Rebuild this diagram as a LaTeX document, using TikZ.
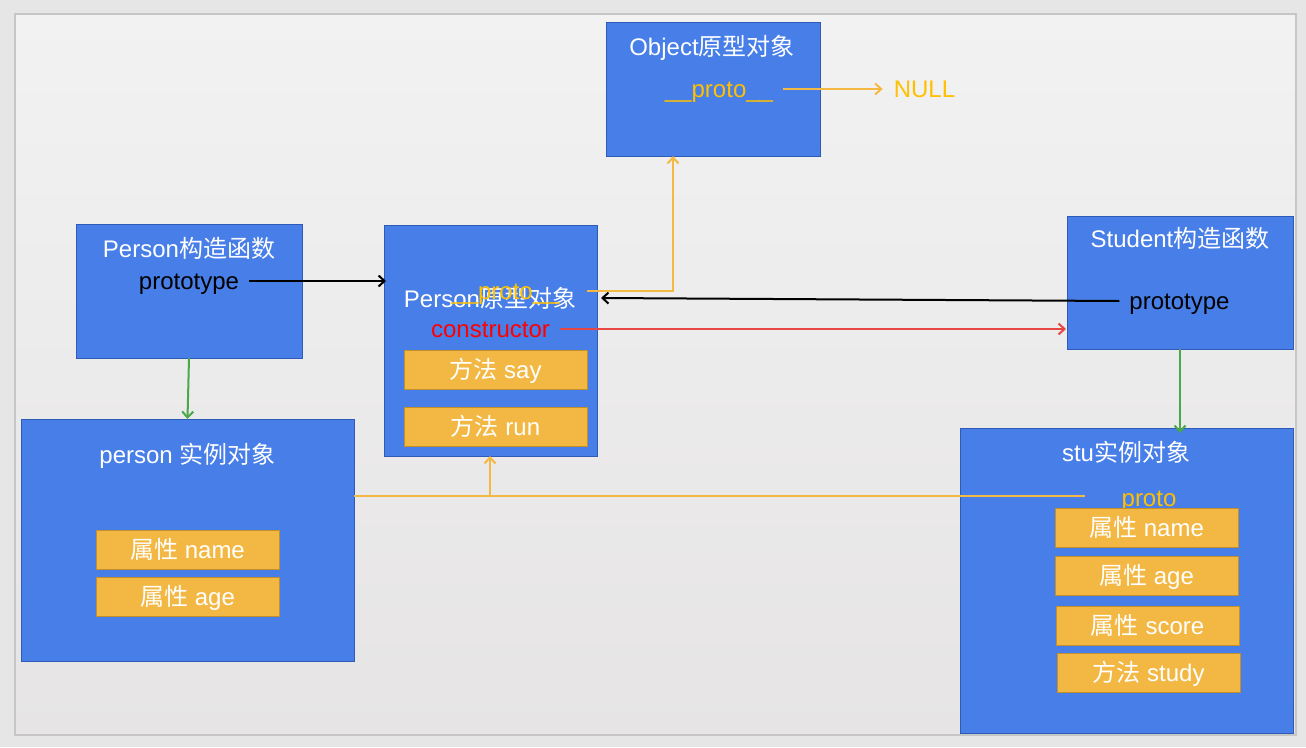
\documentclass[tikz,border=0pt]{standalone}
\usepackage{fontspec}
\setmainfont{Liberation Sans}
\newfontfamily\cjk{Noto Sans CJK SC}
\usetikzlibrary{arrows.meta,calc}
\definecolor{bfill}{HTML}{477EE8}
\definecolor{bline}{HTML}{2F5BB7}
\definecolor{ofill}{HTML}{F3B843}
\definecolor{oline}{HTML}{C38E2C}
\definecolor{otext}{HTML}{FFC000}
\definecolor{oarr}{HTML}{F4B942}
\definecolor{garr}{HTML}{4AA84A}
\definecolor{rarr}{HTML}{E84545}
\definecolor{bgout}{HTML}{E6E6E6}
\definecolor{slidetop}{HTML}{F2F2F2}
\definecolor{slidebot}{HTML}{E6E4E4}
\definecolor{slideedge}{HTML}{C6C6C6}
\begin{document}
\begin{tikzpicture}[x=1pt,y=-1pt,
  bbox/.style={draw=bline, fill=bfill, line width=1pt, inner sep=0pt, outer sep=0pt, anchor=north west},
  obox/.style={draw=oline, fill=ofill, line width=1pt, text=white, font=\fontsize{24}{28}\selectfont,
     minimum width=183pt, minimum height=39pt, inner sep=0pt, outer sep=0pt, text height=18pt, text depth=1pt, anchor=north west},
  ttxt/.style={font=\fontsize{24}{28}\selectfont, inner sep=0pt, text height=19pt, text depth=3pt, anchor=base},
  arr/.style={line width=2pt, -{Straight Barb[length=6pt,width=11pt]}},
]
\useasboundingbox (0,0) rectangle (1306,747);
\fill[bgout] (0,0) rectangle (1306,747);
\shade[top color=slidetop, bottom color=slidebot] (15,14) rectangle (1296,735);
\draw[slideedge, line width=1.5pt] (15,14) rectangle (1296,735);

% blue boxes
\node[bbox, minimum width=214pt, minimum height=134pt] (objbox) at (606,22) {};
\node[bbox, minimum width=226pt, minimum height=134pt] (pcons) at (76,224) {};
\node[bbox, minimum width=213pt, minimum height=231pt] (pproto) at (384,225) {};
\node[bbox, minimum width=226pt, minimum height=133pt] (scons) at (1067,216) {};
\node[bbox, minimum width=333pt, minimum height=242pt] (pinst) at (21,419) {};
\node[bbox, minimum width=333pt, minimum height=305pt] (sinst) at (960,428) {};

% Object prototype
\node[ttxt, text=white] (objtitle) at (712,55) {Object{\cjk 原型对象}};
\node[ttxt, text=otext] (op) at (719,97) {\_\_proto\_\_};
\node[ttxt, text=otext] (null) at (924.5,97) {NULL};

% Person constructor
\node[ttxt, text=white] (pctitle) at (189,257) {Person{\cjk 构造函数}};
\node[ttxt, text=black] (ptypeL) at (189,289) {prototype};

% Person prototype
\node[ttxt, text=white] (pptitle) at (490,307) {Person{\cjk 原型对象}};
\node[ttxt, text=otext] (pp) at (505.5,299) {\_\_proto\_\_};
\node[ttxt, text=red] (ctor) at (490.5,337) {constructor};
\node[obox] (say) at (404,350) {{\cjk 方法} say};
\node[obox] (run) at (404,407) {{\cjk 方法} run};

% Student constructor
\node[ttxt, text=white] (sctitle) at (1180,247) {Student{\cjk 构造函数}};
\node[ttxt, text=black] (ptypeR) at (1179.5,309) {prototype};

% person instance
\node[ttxt, text=white] (pititle) at (187.5,463) {person {\cjk 实例对象}};
\node[obox] (pname) at (96,530) {{\cjk 属性} name};
\node[obox] (page) at (96,577) {{\cjk 属性} age};

% stu instance
\node[ttxt, text=white] (sititle) at (1126,461) {stu{\cjk 实例对象}};
\node[ttxt, text=otext] (sp) at (1149,506) {proto};
\node[obox] (sname) at (1055,508) {{\cjk 属性} name};
\node[obox] (sage) at (1055,556) {{\cjk 属性} age};
\node[obox] (sscore) at (1056,606) {{\cjk 属性} score};
\node[obox] (sstudy) at (1057,653) {{\cjk 方法} study};

% connectors
\coordinate (ppin) at (601,298);
\coordinate (jn) at (490,496);
\draw[arr, black] ([xshift=10pt]ptypeL.east) -- ([xshift=2pt]ptypeL.east -| pproto.west);
\draw[arr, black] ([xshift=-10pt]ptypeR.west) -- (ppin);
\draw[arr, rarr] ([xshift=10pt]ctor.east) -- ([xshift=-1pt]ctor.east -| scons.west);
\draw[arr, oarr] ([xshift=27pt]pp.east) -| ([xshift=-40pt]objbox.south);
\draw[arr, oarr] ([xshift=10pt]op.east) -- ([xshift=-11pt]null.west);
\draw[arr, garr] (pcons.south) -- (pinst.north);
\draw[arr, garr] (scons.south) -- ([yshift=-5pt]scons.south |- sinst.north);
\draw[oarr, line width=2pt] (pinst.east |- jn) -- ([xshift=-36pt]sp.west |- jn);
\draw[arr, oarr] (jn) -- (pproto.south -| jn);
\end{tikzpicture}
\end{document}
